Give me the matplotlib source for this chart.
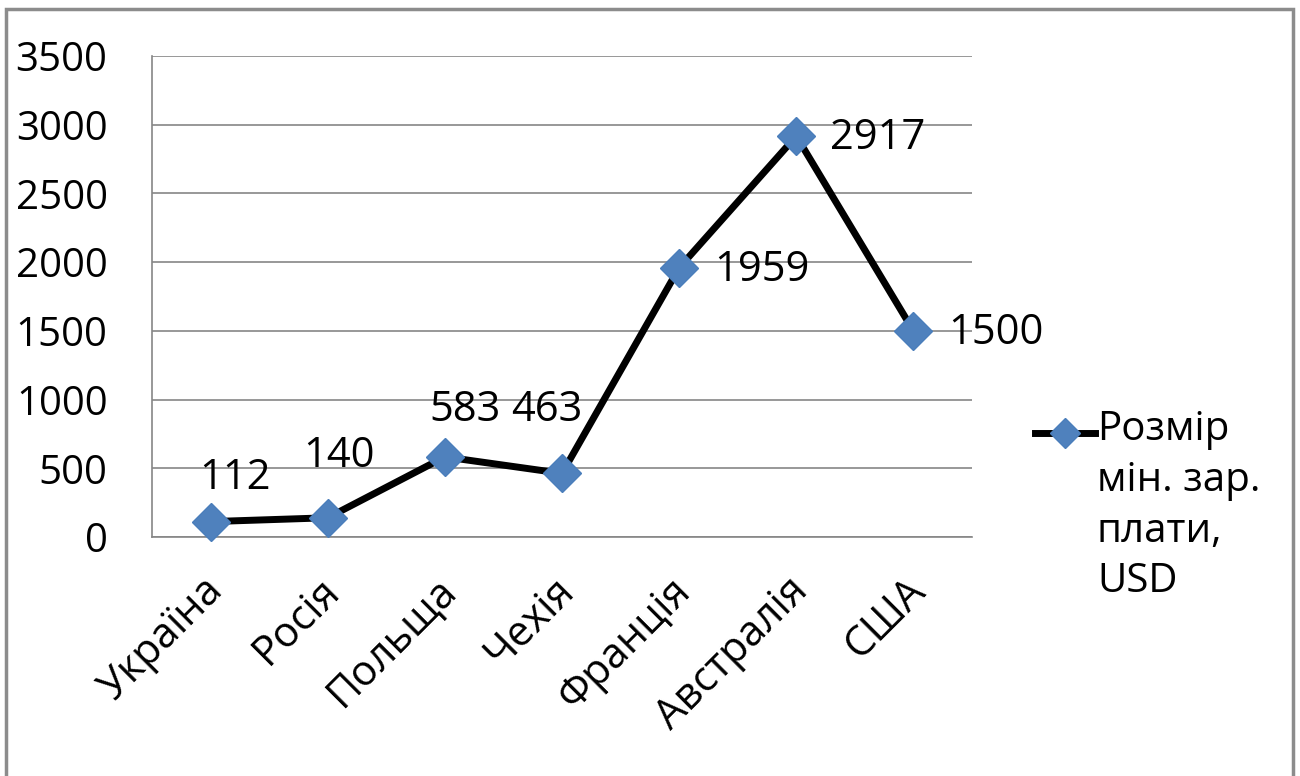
import matplotlib
matplotlib.use("Agg")
import matplotlib.pyplot as plt
import matplotlib.transforms as mtransforms
from matplotlib.lines import Line2D
from matplotlib.patches import Rectangle

categories = ["Україна", "Росія", "Польща", "Чехія", "Франція", "Австралія", "США"]
values = [112, 140, 583, 463, 1959, 2917, 1500]
yticks = [0, 500, 1000, 1500, 2000, 2500, 3000, 3500]
series_name = "Розмір\nмін. зар.\nплати,\nUSD"

# label offsets in pixels (dx, dy) relative to each point
label_offsets = [(24, 44), (11, 62), (20, 47), (-15, 63), (83, -2), (81, -2), (82, -2)]

plt.rcParams['font.family'] = ['Open Sans', 'DejaVu Sans']
W, H = 1300, 776
fig = plt.figure(figsize=(13, 7.76), dpi=100)
ax = fig.add_axes([152 / W, 1 - 537 / H, (972 - 152) / W, (537 - 56) / H])

x = list(range(len(categories)))
ax.plot(x, values, color='black', lw=5, marker='D', markersize=19,
        markerfacecolor='#4F81BD', markeredgecolor='#4A7EBB', markeredgewidth=1,
        solid_joinstyle='round', zorder=3, clip_on=False)

for xi, v, (dx, dy) in zip(x, values, label_offsets):
    ax.annotate(str(v), (xi, v), xytext=(dx, dy), textcoords='offset pixels',
                ha='center', va='center', fontsize=30, color='black', zorder=4)

ax.set_xlim(-0.5, len(categories) - 0.5)
ax.set_ylim(0, 3500)
ax.set_yticks(yticks)
ax.set_yticklabels([str(t) for t in yticks])
ax.set_xticks(x)
ax.set_xticklabels(categories, rotation=45, ha='right', va='top', rotation_mode='anchor')

ax.tick_params(axis='y', length=0, pad=32, labelsize=29)
ax.tick_params(axis='x', length=0, pad=14, labelsize=30)
shift = mtransforms.ScaledTranslation(-9 / 100, -13 / 100, fig.dpi_scale_trans)
for lbl in ax.get_xticklabels():
    lbl.set_transform(lbl.get_transform() + shift)
ax.grid(axis='y', color='#868686', lw=1.2)
ax.set_axisbelow(True)
for s in ['top', 'right']:
    ax.spines[s].set_visible(False)
for s in ['left', 'bottom']:
    ax.spines[s].set_color('#868686')
    ax.spines[s].set_linewidth(1.2)

# legend (manual)
ly = 1 - 433 / H
fig.add_artist(Line2D([1035 / W, 1095 / W], [ly, ly], color='black', lw=5,
                      transform=fig.transFigure))
fig.add_artist(Line2D([1065 / W], [ly], marker='D', markersize=15, color='#4F81BD',
                      markeredgecolor='#4A7EBB', transform=fig.transFigure))
fig.text(1097 / W, 1 - 410 / H, series_name, ha='left', va='top', fontsize=29,
         linespacing=1.33)

# outer border
fig.add_artist(Rectangle((6 / W, -0.05), (1293 - 6) / W, 1.05 - 9 / H, fill=False,
                         edgecolor='#8c8c8c', lw=2.5, transform=fig.transFigure))

fig.savefig("out.png", dpi=100, facecolor='white')
